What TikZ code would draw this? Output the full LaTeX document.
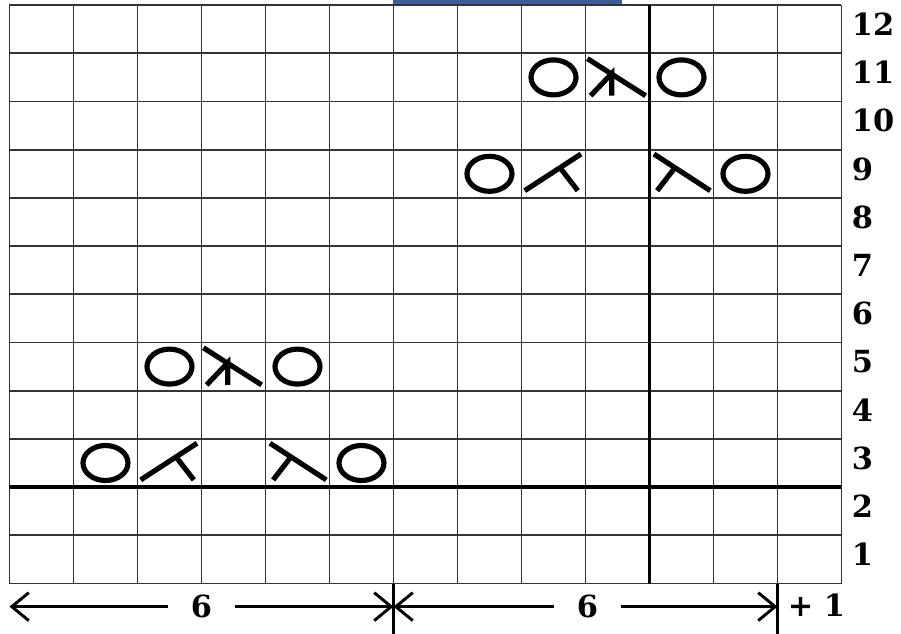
\documentclass[tikz,border=0pt]{standalone}
\usepackage{fontspec}
\setmainfont{DejaVu Serif}
\usetikzlibrary{arrows.meta}

\definecolor{barblue}{RGB}{62,92,150}
\tikzset{
  gridline/.style={line width=1.5pt,draw=black!80},
  thickline/.style={line width=3pt},
  stitch/.style={line width=4.4pt},
  dimline/.style={line width=2.5pt,-{Straight Barb[length=5.1mm,width=8.4mm]}},
  numlabel/.style={font=\fontsize{26}{30}\selectfont\bfseries,inner sep=0pt},
}

\begin{document}
\begin{tikzpicture}[x=1.92cm,y=1.446cm]
  \useasboundingbox (-0.1484,-1.0477) rectangle (13.93,12.106);
  % bar above the chart
  \fill[barblue] (5.99,12.02) rectangle (9.57,12.106);
  % grid
  \foreach \i in {0,...,13} \draw[gridline] (\i,0) -- (\i,12);
  \foreach \j in {0,...,12} \draw[gridline] (0,\j) -- (13,\j);
  \draw[thickline] (0,2) -- (13,2);
  \draw[thickline] (10,0) -- (10,12);
  % row numbers
  \foreach \r in {1,...,12}
    \node[numlabel,anchor=west] (row\r) at (13.16,\r-0.4) {\r};
  % lace motif, repeated
  \foreach \s in {0,6}{
    \begin{scope}[shift={(\s,\s)}]
      % row 3
      \draw[stitch] (1.5,2.5) ellipse [x radius=0.675cm,y radius=0.525cm];
      \draw[stitch] (2.05,2.15) -- (2.93,2.91);
      \draw[stitch] (2.6,2.63) -- (2.88,2.15);
      \draw[stitch] (4.07,2.91) -- (4.95,2.15);
      \draw[stitch] (4.4,2.63) -- (4.12,2.15);
      \draw[stitch] (5.5,2.5) ellipse [x radius=0.675cm,y radius=0.525cm];
      % row 5
      \draw[stitch] (2.5,4.5) ellipse [x radius=0.675cm,y radius=0.525cm];
      \draw[stitch] (3.03,4.89) -- (3.94,4.12);
      \draw[stitch] (3.08,4.12) -- (3.41,4.58) -- (3.41,4.12);
      \draw[stitch] (4.5,4.5) ellipse [x radius=0.675cm,y radius=0.525cm];
    \end{scope}
  }
  % repeat marks
  \draw[line width=3.4pt] (6,0) -- (6,-1.0477);
  \draw[line width=2.4pt] (12,0) -- (12,-1.0477);
  \coordinate (d0) at (0,-0.48);
  \coordinate (d6) at (6,-0.48);
  \coordinate (d12) at (12,-0.48);
  \node[numlabel,inner xsep=0.675cm] (w1) at (3,-0.48) {6};
  \node[numlabel,inner xsep=0.675cm] (w2) at (9.03,-0.48) {6};
  \node[numlabel] (plus) at (12.61,-0.45) {+ 1};
  \draw[dimline] (w1) -- (d0);
  \draw[dimline] (w1) -- (d6);
  \draw[dimline] (w2) -- (d6);
  \draw[dimline] (w2) -- (d12);
\end{tikzpicture}
\end{document}
